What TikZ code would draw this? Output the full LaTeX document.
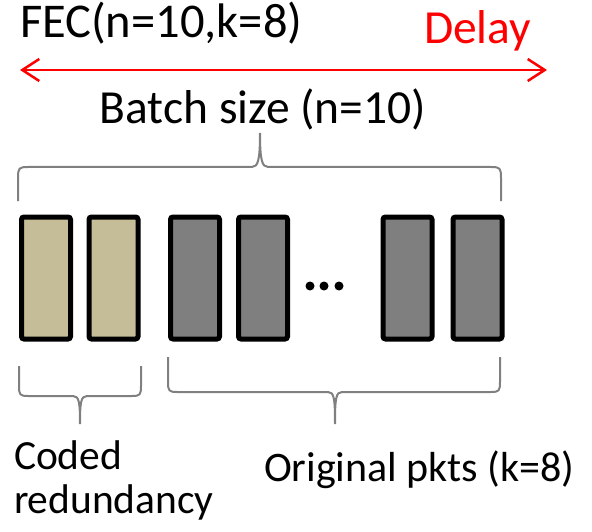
\documentclass[tikz,border=0pt]{standalone}
\usepackage{fontspec}
\setmainfont{Carlito}
\usetikzlibrary{arrows.meta}
\definecolor{tanfill}{HTML}{C4BD97}
\definecolor{pktgray}{HTML}{7F7F7F}
\definecolor{bracegray}{HTML}{808080}
\definecolor{delayred}{HTML}{FF0000}
\tikzset{
  pkt/.style={draw=black, line width=5pt, rounded corners=2.5pt,
    minimum width=49pt, minimum height=122pt, inner sep=0pt},
  coded/.style={pkt, fill=tanfill},
  orig/.style={pkt, fill=pktgray},
  brace/.style={draw=bracegray, line width=2pt},
  label/.style={inner sep=0pt, outer sep=0pt},
  dot/.style={circle, fill=black, inner sep=0pt, minimum size=9pt},
}
\begin{document}
\begin{tikzpicture}[x=1pt, y=-1pt]
  \useasboundingbox (0,0) rectangle (592,532);

  % top labels and the delay arrow
  \node[label, anchor=base west, font=\fontsize{48.5}{48.5}\selectfont] (fec) at (20,38) {FEC(n=10,k=8)};
  \node[label, anchor=base west, font=\fontsize{47.5}{47.5}\selectfont, text=delayred] (delay) at (424,44) {Delay};
  \coordinate (aleft) at (20,70);
  \coordinate (aright) at (547,70);
  \draw[delayred, line width=2.5pt, {Straight Barb[length=17pt,width=22pt,line width=2.5pt]}-{Straight Barb[length=17pt,width=22pt,line width=2.5pt]}] (aleft) -- (aright);

  \node[label, anchor=base, font=\fontsize{47.5}{47.5}\selectfont] (batch) at (263,124) {Batch size (n=10)};

  % packets
  \node[coded] (c1) at (46,278) {};
  \node[coded] (c2) at (113.5,278) {};
  \node[orig]  (o1) at (195,278) {};
  \node[orig]  (o2) at (263,278) {};
  \node[orig]  (o7) at (407.5,278) {};
  \node[orig]  (o8) at (477.5,278) {};
  \node[dot] (d1) at (310,286) {};
  \node[dot] (d2) at (324,286) {};
  \node[dot] (d3) at (339,286) {};

  % brace over the whole batch
  \draw[brace] (18,201) -- (18,178) .. controls (18,168) and (19,167) .. (28,167)
    -- (252,167) .. controls (258,167) and (260,160) .. (260,133)
    .. controls (260,160) and (262,167) .. (268,167)
    -- (491,167) .. controls (500,167) and (501,168) .. (501,178) -- (501,201);

  % brace under the coded packets
  \draw[brace] (19,366) -- (19,386) .. controls (19,395) and (20,396) .. (28,396)
    -- (73,396) .. controls (79,396) and (80,402) .. (80,424)
    .. controls (80,402) and (81,396) .. (87,396)
    -- (132,396) .. controls (140,396) and (141,395) .. (141,386) -- (141,366);

  % brace under the original packets
  \draw[brace] (168,357) -- (168,382) .. controls (168,391) and (169,392) .. (177,392)
    -- (328,392) .. controls (334,392) and (335,398) .. (335,424)
    .. controls (335,398) and (336,392) .. (342,392)
    -- (491,392) .. controls (499,392) and (500,391) .. (500,382) -- (500,357);

  % bottom labels
  \node[label, anchor=base west, font=\fontsize{41.5}{41.5}\selectfont] (codedlbl) at (14,469) {Coded};
  \node[label, anchor=base west, font=\fontsize{41.5}{41.5}\selectfont] (redlbl) at (14,513) {redundancy};
  \node[label, anchor=base west, font=\fontsize{42}{42}\selectfont] (origlbl) at (264,481) {Original pkts (k=8)};
\end{tikzpicture}
\end{document}
